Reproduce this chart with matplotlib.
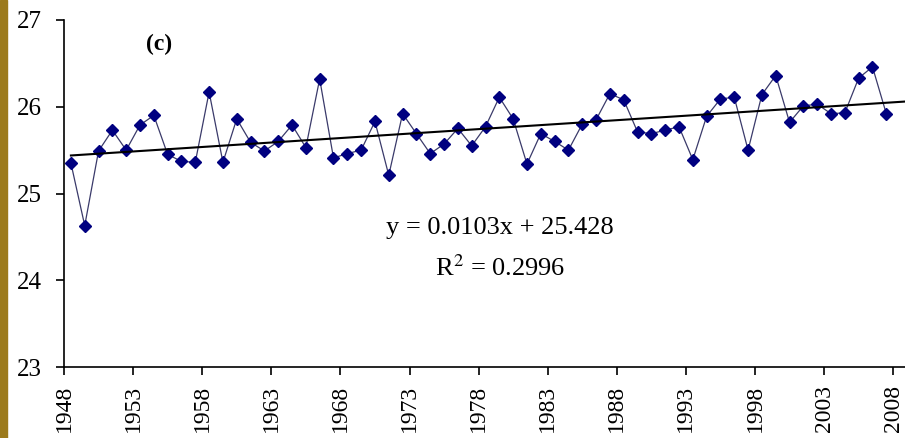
import numpy as np
import matplotlib
matplotlib.use('Agg')
import matplotlib.pyplot as plt
from matplotlib.patches import Rectangle

years = list(range(1948, 2008))
temps = [25.35, 24.63, 25.49, 25.73, 25.50, 25.79, 25.90, 25.45, 25.37, 25.36,
         26.17, 25.36, 25.86, 25.59, 25.49, 25.60, 25.79, 25.53, 26.32, 25.41,
         25.46, 25.50, 25.83, 25.21, 25.92, 25.69, 25.46, 25.57, 25.75, 25.55,
         25.77, 26.11, 25.86, 25.34, 25.69, 25.60, 25.50, 25.80, 25.85, 26.15,
         26.08, 25.71, 25.69, 25.73, 25.77, 25.39, 25.89, 26.09, 26.11, 25.50,
         26.14, 26.36, 25.82, 26.01, 26.03, 25.92, 25.93, 26.33, 26.46, 25.92]
tick_labels = ['1948', '1953', '1958', '1963', '1968', '1973', '1978',
               '1983', '1988', '1993', '1998', '2003', '2008']
y_ticks = [23, 24, 25, 26, 27]
slope, intercept = 0.0103, 25.428
equation = 'y = 0.0103x + 25.428'
r2_text = 'R$^{2}$ = 0.2996'

plt.rcParams['font.family'] = ['Liberation Serif', 'DejaVu Serif']
plt.rcParams['mathtext.fontset'] = 'stix'

fig = plt.figure(figsize=(9.05, 4.38), dpi=100)
fig.patches.append(Rectangle((0, 0), 7 / 905, 1, transform=fig.transFigure,
                             color='#9c7a1c', zorder=0))

ax = fig.add_axes([64 / 905, 71 / 438, 1 - 64 / 905, 347 / 438])

# excel-style category axis: points sit between tick marks
pos = np.arange(len(years)) + 0.5
ax.plot(pos, temps, color='#3a3a6a', linewidth=0.9, marker='D',
        markersize=6, markerfacecolor='#000080', markeredgecolor='#000080',
        zorder=3)

x_right = (905 - 64) / 13.82
trend_x = np.array([0.5, x_right])
ax.plot(trend_x, slope * (trend_x + 0.5) + intercept, color='black',
        linewidth=1.5, zorder=4)

ax.set_xlim(0, x_right)
ax.set_ylim(23, 27)
ax.set_xticks(np.arange(len(tick_labels)) * 5)
ax.set_xticklabels(tick_labels, rotation=90, fontsize=17)
ax.set_yticks(y_ticks)
ax.set_yticklabels([str(v) for v in y_ticks], fontsize=18)
ax.tick_params(axis='x', direction='out', length=6, width=1.2, pad=7)
ax.tick_params(axis='y', direction='out', length=6, width=1.2, pad=10)

for s in ['top', 'right']:
    ax.spines[s].set_visible(False)
for s in ['left', 'bottom']:
    ax.spines[s].set_linewidth(1.2)

ax.text(0.113, 0.93, '(c)', transform=ax.transAxes, fontsize=17,
        fontweight='bold', ha='center', va='center')
ax.text(0.518, 0.40, equation, transform=ax.transAxes, fontsize=19,
        ha='center', va='center')
ax.text(0.518, 0.285, r2_text, transform=ax.transAxes, fontsize=19,
        ha='center', va='center')

plt.savefig('out.png', dpi=100)
